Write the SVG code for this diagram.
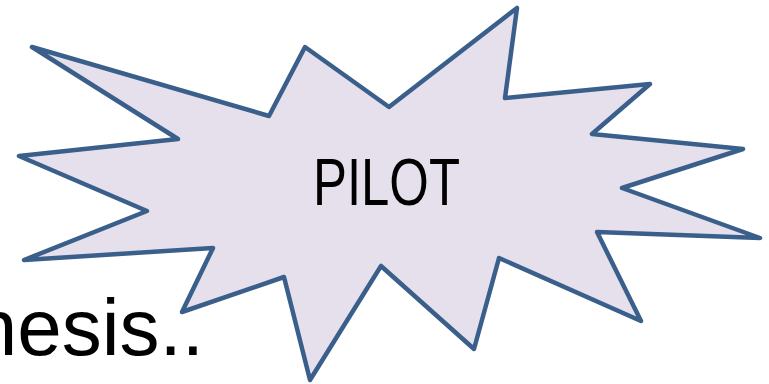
<svg xmlns="http://www.w3.org/2000/svg" width="769" height="384" viewBox="0 0 769 384">
  <style>
    .burst { fill: #E5E0EC; stroke: #3A5F8B; stroke-width: 4.5; stroke-linejoin: round; }
    .big { font-family: "Liberation Sans", Arial, sans-serif; fill: #000; }
  </style>
  <rect width="769" height="384" fill="#fff"/>
  <g id="bg-text">
    <text class="big" x="204" y="355" font-size="80" text-anchor="end">nesis..</text>
  </g>
  <g id="pilot">
    <polygon class="burst" points="32,47 269,116 305,47 389,107 517,8 505,98 650,84 592,134 743,149 622,188 760,238 597,232 641,321 499,258 474,349 381,266 310,380 284,277 182,312 213,248 24,260 147,211 19,156 178,139"/>
    <text class="big" x="313" y="205" font-size="67" textLength="147" lengthAdjust="spacingAndGlyphs">PILOT</text>
  </g>
</svg>
